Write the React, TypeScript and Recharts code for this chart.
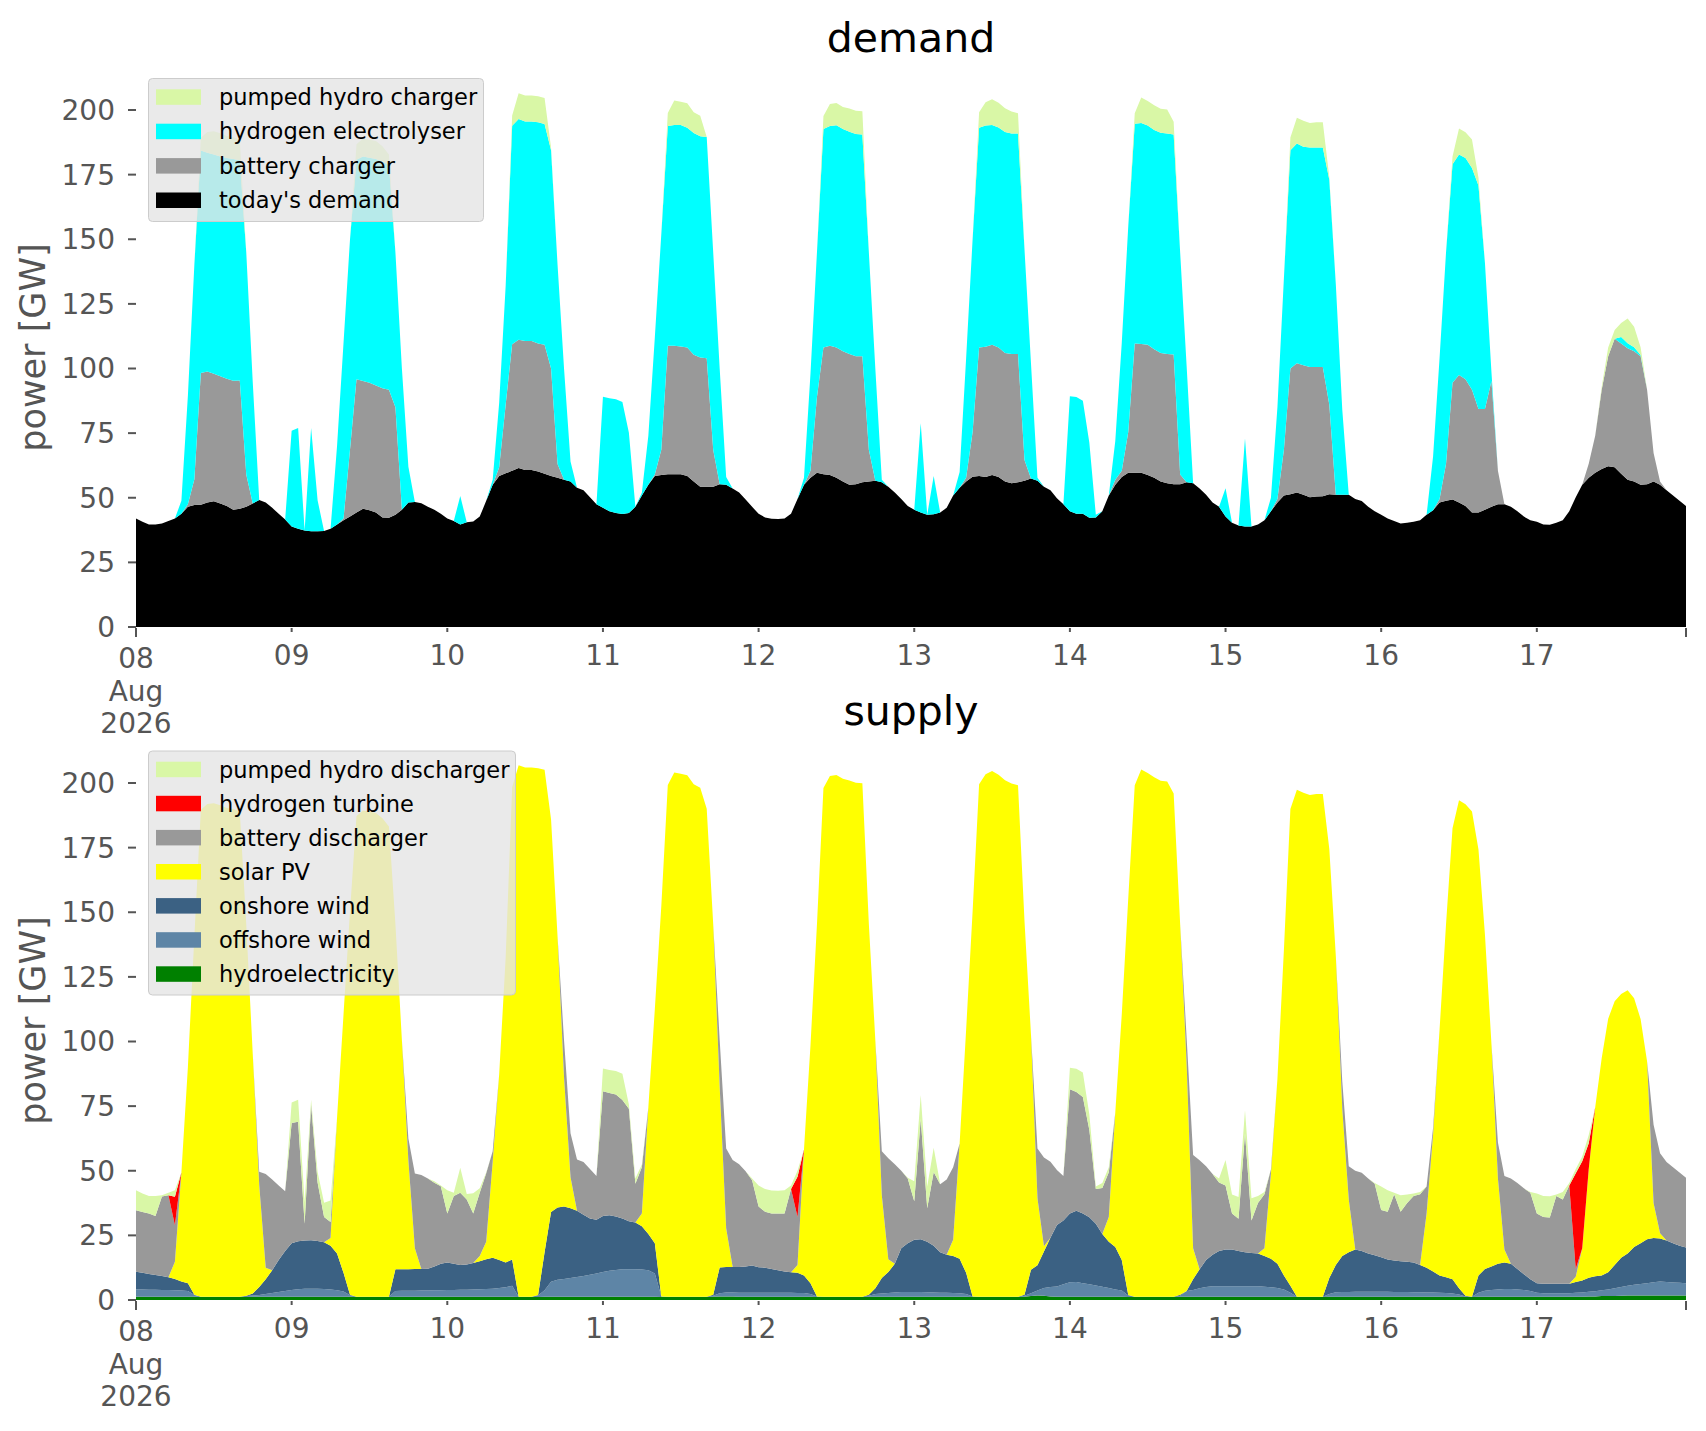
import React from 'react';
import { AreaChart, Area, XAxis, YAxis } from 'recharts';

// ---------- axis categories ----------
const DAY_LABELS = ['08', '09', '10', '11', '12', '13', '14', '15', '16', '17'];
const X_TICKS = [0, 24, 48, 72, 96, 120, 144, 168, 192, 216, 239];
const X_END = 239;
const Y_TICKS = [0, 25, 50, 75, 100, 125, 150, 175, 200];
const Y_MAX = 216.25;

// ---------- demand series (GW, hourly, 08 Aug 00:00 .. 17 Aug 23:00) ----------
const TODAY_DEMAND = [
  42, 40.7, 39.7, 39.7, 40, 41, 42, 43.8, 46.5, 47.2, 47.3, 48.2, 48.6, 47.8, 46.8, 45.4, 45.7, 46.5, 47.8, 49.1, 48.2, 46.1, 43.8, 41.6,
  38.9, 38, 37.3, 37, 37, 37.1, 38, 39.7, 41.3, 42.7, 44.3, 45.7, 45.2, 44.3, 42.4, 42.3, 43.4, 45.4, 48.2, 48.4, 47.9, 46.5, 45.4, 43.8,
  42, 41, 39.7, 40.5, 40.8, 42.7, 48.8, 55, 58.4, 59.5, 60.4, 61.5, 60.7, 60.7, 60.2, 59.3, 58.4, 57.7, 57, 56.3, 53.9, 52.9, 50.2, 47.5,
  46.1, 44.8, 44.1, 43.7, 44.1, 46.5, 50.9, 55, 58.4, 58.8, 59.1, 59.1, 59.1, 58.4, 56.3, 54.3, 54.3, 54.3, 55.2, 55, 53.6, 52, 49.3, 46.5,
  43.8, 42.4, 41.9, 41.8, 42, 43.8, 49.5, 55, 57.7, 59.7, 59.1, 58.8, 57.7, 56.3, 55, 55.2, 56, 56.3, 56.6, 56, 54.3, 52, 49.5, 46.8,
  45.4, 44.3, 43.4, 43.6, 44.3, 46.1, 50.9, 53.9, 56.3, 58.1, 58.4, 58, 58.8, 58, 56.3, 55.6, 56, 56.6, 57.4, 56.6, 54.3, 52.9, 49.8, 47.5,
  44.8, 43.8, 43.8, 42.3, 42.4, 44.8, 50.9, 55, 58, 59.7, 59.7, 59.7, 58.8, 57.7, 56.3, 55.6, 55.2, 55.2, 56, 55.6, 53.6, 51.2, 48.2, 46.5,
  42.7, 40.3, 39.3, 38.9, 38.9, 39.7, 41.3, 44.8, 48.2, 50.9, 51.4, 52, 51.2, 50.2, 50.5, 50.6, 51.4, 51.2, 51.2, 51.2, 49.5, 48.7, 46.5, 44.8,
  43.4, 42, 41, 40, 40.3, 40.7, 41.3, 43.4, 45.2, 48.2, 48.8, 49.3, 48.2, 46.8, 44.3, 44.3, 45.4, 46.5, 47.5, 47.5, 46.5, 44.8, 42.7, 41.3,
  40.7, 39.7, 39.6, 40.3, 41.3, 44.8, 50.2, 55, 57.7, 59.7, 61.1, 62.2, 61.8, 59.3, 57, 56.3, 55, 55.2, 56.3, 55, 52.9, 50.9, 48.8, 46.8,
];

const BATTERY_CHARGER = [
  0, 0, 0, 0, 0, 0, 0, 0, 1, 10, 51, 50.6, 49.4, 49.2, 49.2, 49.9, 49.7, 12.5, 0, 0, 0, 0, 0, 0,
  0, 0, 0, 0, 0, 0, 0, 0, 0.7, 26, 51.5, 49.5, 49.3, 49.1, 50, 49.5, 41.6, 0, 0, 0, 0, 0, 0, 0,
  0, 0, 0, 0, 0, 0, 0, 0, 3.4, 26.5, 49, 49.6, 49.9, 49.9, 49.5, 49.9, 41.6, 5.4, 0, 0, 0, 0, 0, 0,
  0, 0, 0, 0, 0, 0, 0, 0, 0.6, 9.8, 49.7, 49.7, 49.4, 49.7, 49, 50, 49.7, 14.3, 0, 0, 0, 0, 0, 0,
  0, 0, 0, 0, 0, 0, 0, 0, 2.7, 29.3, 49, 50, 50.4, 50.4, 50.6, 49.5, 48.7, 12.3, 0, 0, 0, 0, 0, 0,
  0, 0, 0, 0, 0, 0, 0, 0, 1.4, 17.3, 49.7, 50.4, 50.4, 50.1, 49.7, 50, 49.6, 8, 0, 0, 0, 0, 0, 0,
  0, 0, 0, 0, 0, 0, 0, 2, 2.4, 15.7, 50, 49.8, 50.4, 49.7, 49.7, 50, 50.2, 3.8, 0, 0, 0, 0, 0, 0,
  0, 0, 0, 0, 0, 0, 0, 0, 1.3, 17.7, 48.6, 50, 50.1, 50.4, 50.1, 50, 34.6, 0, 0, 0, 0, 0, 0, 0,
  0, 0, 0, 0, 0, 0, 0, 0, 0, 1.3, 14.4, 45.2, 49.3, 49, 47.5, 40, 38.9, 48.7, 12.9, 0, 0, 0, 0, 0,
  0, 0, 0, 0, 0, 0, 0, 0, 5.5, 14.3, 30.7, 42.5, 49.7, 50.4, 50.8, 50.4, 49.7, 36.6, 11, 1.3, 0, 0, 0, 0,
];

const ELECTROLYSER = [
  0, 0, 0, 0, 0, 0, 0, 5, 42, 83, 86, 84.7, 84.8, 85, 85.4, 85.7, 85.2, 86, 47, 0, 0, 0, 0, 0,
  37, 39, 0, 40, 12, 0, 0, 30.3, 68, 81.3, 85, 86.8, 87, 87.6, 87.6, 87, 60, 54.6, 13.8, 0, 0, 0, 0, 0,
  0, 0, 11, 0, 0, 0, 0, 2, 25, 46, 84.5, 85.4, 85, 85, 85.6, 85.4, 84.4, 77, 43, 7.7, 0, 0, 0, 0,
  43, 43.7, 44, 43.3, 31, 0, 1, 19, 53, 83.4, 85, 85.4, 85.7, 85, 85.8, 85.5, 85.6, 76.4, 44.8, 3, 0, 0, 0, 0,
  0, 0, 0, 0, 0, 0, 0, 2.7, 37.6, 56, 84.6, 85, 86, 86, 86, 86, 85.8, 76.4, 43.4, 1, 0, 0, 0, 0,
  0, 34.5, 0, 14.8, 0, 0, 0, 6.1, 46.3, 74.6, 85, 85.6, 85, 85.1, 85.5, 85.3, 85.3, 81.5, 44.6, 1.1, 0, 0, 0, 0,
  44.5, 45.2, 43.7, 29, 1, 0, 0, 15, 49.6, 79.6, 85, 85.5, 84.8, 84.9, 85.2, 85.3, 85.1, 86, 45, 0, 0, 0, 0, 0,
  11, 0, 0, 34, 0, 0, 0, 5.2, 35.5, 66.4, 84.4, 85, 84.5, 84.9, 84.9, 84.9, 87, 81.6, 32.8, 0, 0, 0, 0, 0,
  0, 0, 0, 0, 0, 0, 0, 0, 20.8, 54.5, 81.8, 84.5, 85.3, 85.6, 85.8, 86.5, 56.5, 3.4, 0, 0, 0, 0, 0, 0,
  0, 0, 0, 0, 0, 0, 0, 0, 0, 0, 0, 0, 0, 2.5, 2, 1.5, 0.5, 0, 0, 0, 0, 0, 0, 0,
];

const PUMPED_CHARGER = [
  0, 0, 0, 0, 0, 0, 0, 0, 0, 0, 5, 8, 9, 9, 8.5, 8.5, 8, 0, 0, 0, 0, 0, 0, 0,
  0, 0, 0, 0, 0, 0, 0, 0, 0, 0, 6, 7, 7, 7, 6, 4, 0, 0, 0, 0, 0, 0, 0, 0,
  0, 0, 0, 0, 0, 0, 0, 0, 0, 0, 4, 10, 10, 10, 10, 10, 1, 0, 0, 0, 0, 0, 0, 0,
  0, 0, 0, 0, 0, 0, 0, 0, 0, 0, 5, 9.5, 9, 9.5, 8, 8, 0, 0, 0, 0, 0, 0, 0, 0,
  0, 0, 0, 0, 0, 0, 0, 0, 0, 0, 5, 8.5, 8.6, 8.5, 9, 9, 9, 0, 0, 0, 0, 0, 0, 0,
  0, 0, 0, 0, 0, 0, 0, 0, 0, 0, 6, 9, 10, 9.6, 9.2, 8.5, 7.8, 0, 0, 0, 0, 0, 0, 0,
  0, 0, 0, 0, 0, 0, 0, 0, 0, 0, 4, 9.8, 9.5, 9.5, 9.3, 9.3, 5, 0, 0, 0, 0, 0, 0, 0,
  0, 0, 0, 0, 0, 0, 0, 0, 0, 0, 5, 10, 10, 9.5, 9.8, 9.8, 1, 0, 0, 0, 0, 0, 0, 0,
  0, 0, 0, 0, 0, 0, 0, 0, 0, 0, 0, 3, 10, 10, 11, 3, 0, 0, 0, 0, 0, 0, 0, 0,
  0, 0, 0, 0, 0, 0, 0, 0, 0, 0, 1, 3.4, 3.4, 5.4, 9.5, 8, 3, 0, 0, 0, 0, 0, 0, 0,
];

// ---------- supply series ----------
const HYDRO = [
  1.3, 1.3, 1.3, 1.3, 1.3, 1.3, 1.3, 1.3, 1.3, 1.3, 1.2, 1.2, 1.2, 1.2, 1.2, 1.2, 1.2, 1.2, 1.3, 1.3, 1.3, 1.3, 1.3, 1.3,
  1.3, 1.3, 1.3, 1.3, 1.3, 1.3, 1.3, 1.3, 1.3, 1.3, 1.2, 1.2, 1.2, 1.2, 1.2, 1.2, 1.3, 1.3, 1.3, 1.3, 1.3, 1.3, 1.3, 1.3,
  1.3, 1.3, 1.3, 1.3, 1.3, 1.3, 1.3, 1.3, 1.3, 1.3, 1.3, 1.2, 1.2, 1.2, 1.2, 1.3, 1.3, 1.3, 1.3, 1.3, 1.3, 1.3, 1.3, 1.3,
  1.3, 1.3, 1.3, 1.3, 1.3, 1.3, 1.3, 1.3, 1.3, 1.2, 1.2, 1.2, 1.2, 1.2, 1.2, 1.2, 1.2, 1.3, 1.4, 1.4, 1.4, 1.3, 1.3, 1.3,
  1.3, 1.3, 1.3, 1.3, 1.3, 1.3, 1.3, 1.3, 1.3, 1.2, 1.2, 1.2, 1.2, 1.2, 1.2, 1.2, 1.2, 1.3, 1.3, 1.3, 1.3, 1.3, 1.3, 1.3,
  1.3, 1.3, 1.3, 1.3, 1.3, 1.3, 1.3, 1.3, 1.3, 1.2, 1.2, 1.2, 1.2, 1.2, 1.2, 1.2, 1.2, 1.3, 1.5, 1.7, 1.6, 1.4, 1.3, 1.3,
  1.3, 1.3, 1.3, 1.3, 1.3, 1.3, 1.3, 1.3, 1.3, 1.2, 1.2, 1.2, 1.2, 1.2, 1.2, 1.2, 1.2, 1.3, 1.3, 1.3, 1.3, 1.3, 1.3, 1.3,
  1.3, 1.3, 1.3, 1.3, 1.3, 1.3, 1.3, 1.3, 1.3, 1.3, 1.3, 1.2, 1.2, 1.2, 1.2, 1.2, 1.3, 1.3, 1.3, 1.3, 1.3, 1.3, 1.3, 1.3,
  1.3, 1.3, 1.3, 1.3, 1.3, 1.3, 1.3, 1.3, 1.3, 1.3, 1.3, 1.3, 1.3, 1.2, 1.2, 1.3, 1.3, 1.3, 1.3, 1.3, 1.3, 1.3, 1.3, 1.3,
  1.3, 1.3, 1.3, 1.3, 1.3, 1.3, 1.3, 1.3, 1.4, 1.4, 1.5, 1.5, 1.5, 1.6, 1.7, 1.7, 1.7, 1.7, 1.7, 1.7, 1.7, 1.7, 1.7, 1.7,
];

const OFFSHORE = [
  2.8, 2.8, 2.7, 2.7, 2.6, 2.6, 2.5, 2.4, 2.2, 0.6, 0.1, 0.1, 0.1, 0.1, 0.1, 0.1, 0.1, 0.3, 0.4, 0.6, 1.0, 1.4, 1.8, 2.2,
  2.6, 2.9, 3.1, 3.1, 3.1, 3.0, 2.8, 2.5, 2.0, 0.5, 0.1, 0.1, 0.1, 0.1, 0.1, 0.1, 2.2, 2.3, 2.3, 2.3, 2.4, 2.4, 2.5, 2.5,
  2.6, 2.6, 2.7, 2.7, 2.8, 2.9, 3.0, 3.1, 3.3, 3.6, 4.2, 0.1, 0.1, 0.1, 0.5, 2.5, 5.8, 6.5, 6.8, 7.2, 7.6, 8.0, 8.5, 9.0,
  9.5, 10, 10.3, 10.6, 10.6, 10.6, 10.5, 10.2, 9.0, 0.2, 0.1, 0.1, 0.1, 0.1, 0.1, 0.1, 0.1, 0.3, 1.2, 1.5, 1.5, 1.5, 1.5, 1.5,
  1.5, 1.5, 1.5, 1.5, 1.5, 1.5, 1.4, 1.4, 1.0, 0.2, 0.1, 0.1, 0.1, 0.1, 0.1, 0.1, 0.1, 0.3, 1.0, 1.2, 1.4, 1.6, 1.8, 1.8,
  1.8, 1.8, 1.7, 1.6, 1.5, 1.5, 1.4, 1.3, 1.0, 0.2, 0.1, 0.1, 0.1, 0.1, 0.1, 0.1, 0.1, 0.3, 1.1, 2.0, 3.0, 3.6, 3.9, 4.8,
  5.6, 5.7, 5.2, 4.8, 4.3, 3.8, 3.3, 2.8, 2.4, 0.5, 0.1, 0.1, 0.1, 0.1, 0.1, 0.1, 0.1, 0.3, 2.2, 2.6, 3.2, 3.7, 4.0, 4.0,
  4, 4, 4, 4, 4, 4, 3.8, 3.6, 3.3, 2.8, 1.5, 0.1, 0.1, 0.1, 0.1, 0.1, 1.0, 1.7, 1.8, 1.8, 1.9, 1.9, 1.9, 1.9,
  1.9, 1.9, 1.8, 1.8, 1.8, 1.7, 1.7, 1.6, 1.6, 1.5, 1.4, 1.2, 0.8, 0.2, 0.1, 1.5, 2.3, 2.6, 2.8, 3.0, 3.0, 2.8, 2.6, 2.2,
  1.5, 1.3, 1.3, 1.3, 1.3, 1.3, 1.5, 1.6, 1.8, 2.0, 2.3, 2.6, 3.0, 3.4, 3.8, 4.2, 4.5, 4.8, 5.2, 5.5, 5.3, 5.1, 5.0, 4.8,
];

const ONSHORE = [
  6.8, 6.4, 6.1, 5.7, 5.4, 4.9, 4.3, 3.5, 3.0, 0.1, 0, 0, 0, 0, 0, 0, 0, 0.1, 0.8, 3.1, 5.7, 8.8, 12.4, 15.5,
  18.1, 18.5, 18.6, 18.7, 18.4, 18.0, 16.9, 14.2, 7.2, 0.2, 0, 0, 0, 0, 0, 0, 8.4, 8.3, 8.3, 8.4, 8.3, 8.4, 9.2, 10.2,
  10.6, 10.1, 9.5, 9.7, 10.2, 10.8, 11.5, 11.9, 10.9, 9.6, 10.2, 0, 0, 0, 0.2, 14.7, 26.9, 28.0, 28.1, 27.0, 25.6, 23.7, 21.7, 20.7,
  21.7, 21.5, 20.7, 19.6, 18.6, 18.1, 16.7, 14.0, 11.7, 0, 0, 0, 0, 0, 0, 0, 0, 0.4, 10.0, 9.9, 9.9, 10.0, 10.2, 10.5,
  9.9, 9.7, 9.2, 8.7, 8.2, 7.9, 7.8, 6.8, 4.2, 0, 0, 0, 0, 0, 0, 0, 0, 0.4, 2.2, 6.0, 8.1, 11.1, 16.9, 18.9,
  20.2, 20.4, 19.5, 18.1, 15.7, 14.7, 14.3, 13.4, 8.2, 0, 0, 0, 0, 0, 0, 0, 0, 0.4, 9.1, 9.7, 14.2, 19.1, 23.8, 24.7,
  26.6, 27.5, 27.0, 25.9, 23.9, 20.4, 17.9, 16.4, 11.8, 0.2, 0, 0, 0, 0, 0, 0, 0, 0.4, 0, 4.1, 7.4, 10.5, 12.2, 13.7,
  14.2, 14.2, 13.7, 13.2, 12.9, 12.7, 11.9, 11.1, 9.4, 5.4, 2.7, 0, 0, 0, 0, 0, 6.2, 10.5, 13.9, 15.4, 16.3, 15.8, 14.8, 14.1,
  13.3, 12.5, 12.2, 11.9, 11.7, 11.5, 10.5, 9.6, 8.1, 6.7, 6.1, 5.5, 2.4, 0.2, 0, 6.7, 8.4, 9.1, 9.9, 10.2, 9.7, 7.9, 6.1, 4.5,
  3.7, 3.7, 3.7, 3.7, 3.7, 3.7, 4.2, 4.6, 5.4, 5.8, 5.7, 6.6, 9.0, 11.3, 12.5, 14.6, 15.8, 17.0, 17.1, 16.6, 16.0, 15.2, 14.3, 13.8,
];

const SOLAR = [
  0, 0, 0, 0, 0, 0, 6.7, 42.1, 83.5, 138.7, 188.4, 190.6, 190.9, 190.1, 189, 188.6, 187.7, 143.8, 92.8, 39.5, 4.5, 0, 0, 0,
  0, 0, 0, 0, 0, 0, 3, 52.5, 100, 148.5, 185.9, 188.1, 187.6, 187.1, 185.1, 181.9, 133.6, 88.6, 42, 8, 0, 0, 0, 0,
  0, 0, 0, 0, 0, 2, 6.7, 37.2, 71.8, 118, 182.7, 205.6, 204.7, 204.7, 203.8, 186.6, 151.9, 104.8, 50, 12, 0, 0, 0, 0,
  0, 0, 0, 0, 0, 0, 5, 49, 90.5, 151, 197.9, 202.8, 202.3, 201.7, 198.2, 196.9, 188.7, 143.5, 70, 15, 0, 0, 0, 0,
  0, 0, 0, 0, 0, 0, 3, 48.7, 92, 144, 196.8, 201.4, 201.8, 200.3, 199.7, 198.8, 198.6, 143.5, 96, 32, 5, 0, 0, 0,
  0, 0, 0, 0, 0, 0, 6.3, 44.5, 94, 149, 198.2, 202.1, 203.3, 201.9, 199.8, 198.5, 197.8, 144.6, 91, 26, 2, 0, 0, 0,
  0, 0, 0, 0, 0, 0, 9.6, 52, 95, 153.5, 197.8, 203.9, 202.6, 200.9, 199.6, 199.3, 194.6, 143.5, 88, 12, 0, 0, 0, 0,
  0, 0, 0, 0, 0, 0, 3, 32.9, 71.5, 126, 184.4, 196.1, 194.9, 194.1, 194.4, 194.4, 166, 119.8, 57, 20.4, 0, 0, 0, 0,
  0, 0, 0, 0, 0, 0, 0, 21, 53, 95, 136.7, 174.5, 188.8, 190.2, 187.7, 164.8, 129.3, 86.1, 33, 5, 0, 0, 0, 0,
  0, 0, 0, 0, 0, 0, 2, 12.5, 42, 65.4, 84, 98.1, 102.1, 102.1, 101.8, 96.2, 86.7, 68.8, 13.5, 2, 0, 0, 0, 0,
];

const BATTERY_DISCHARGER = [
  23.8, 23.5, 23.4, 22.8, 30.7, 31.7, 14.1, 0, 0, 0, 0, 0, 0, 0, 0, 0, 0, 0, 0, 5.1, 36.2, 35.1, 28.8, 23.1,
  46.5, 46.3, 6.5, 52.4, 22.7, 9.8, 6.2, 0, 0, 0, 0, 0, 0, 0, 0, 0, 0, 0, 8.6, 28.9, 36.4, 34.9, 32.4, 30,
  19, 26.2, 28, 25.2, 19.2, 24.5, 26.5, 4, 0, 0, 0, 0, 0, 0, 0, 0, 0, 0, 14.3, 17, 19.9, 20.4, 19.2, 17,
  48.3, 47.3, 47.2, 45.9, 43.5, 15, 17.9, 0, 0, 0, 0, 0, 0, 0, 0, 0, 0, 0, 18, 30.8, 41.4, 39.7, 36.8, 33,
  23.5, 21.6, 21.5, 22, 22.5, 32.2, 18.6, 0, 0, 0, 0, 0, 0, 0, 0, 0, 0, 0, 0, 17, 39, 38.5, 30, 25,
  14.9, 46.5, 13, 28.5, 26.3, 29.1, 28.1, 0, 0, 0, 0, 0, 0, 0, 0, 0, 0, 0, 0, 19.2, 34.3, 29.4, 21.3, 17.2,
  48, 46, 45, 33.8, 13.4, 17.8, 17.3, 0, 0, 0, 0, 0, 0, 0, 0, 0, 0, 0, 10, 36.1, 42.2, 36.2, 31.2, 26.5,
  24.8, 14, 12.4, 46, 12.6, 19.5, 20.9, 1.6, 0, 0, 0, 0, 0, 0, 0, 0, 0, 0, 10.5, 12.8, 30.5, 30.2, 29, 27.7,
  18.3, 18.4, 25.6, 19.1, 22.7, 25.7, 27.4, 10.4, 2.5, 0, 0, 0, 0, 0, 0, 0, 0, 0, 13.9, 28.5, 33, 33.3, 33.2, 33.5,
  27, 25.8, 25.6, 33.9, 32.6, 38, 3, 0, 0, 0, 0, 0, 0, 0, 0, 0, 0, 0, 30.3, 31, 30.4, 29.4, 28.3, 27,
];

const HYDROGEN_TURBINE = [
  0, 0, 0, 0, 0, 0, 11, 0, 0, 0, 0, 0, 0, 0, 0, 0, 0, 0, 0, 0, 0, 0, 0, 0,
  0, 0, 0, 0, 0, 0, 0, 0, 0, 0, 0, 0, 0, 0, 0, 0, 0, 0, 0, 0, 0, 0, 0, 0,
  0, 0, 0, 0, 0, 0, 0, 0, 0, 0, 0, 0, 0, 0, 0, 0, 0, 0, 0, 0, 0, 0, 0, 0,
  0, 0, 0, 0, 0, 0, 0, 0, 0, 0, 0, 0, 0, 0, 0, 0, 0, 0, 0, 0, 0, 0, 0, 0,
  0, 0, 0, 0, 0, 0, 15.6, 0, 0, 0, 0, 0, 0, 0, 0, 0, 0, 0, 0, 0, 0, 0, 0, 0,
  0, 0, 0, 0, 0, 0, 0, 0, 0, 0, 0, 0, 0, 0, 0, 0, 0, 0, 0, 0, 0, 0, 0, 0,
  0, 0, 0, 0, 0, 0, 0, 0, 0, 0, 0, 0, 0, 0, 0, 0, 0, 0, 0, 0, 0, 0, 0, 0,
  0, 0, 0, 0, 0, 0, 0, 0, 0, 0, 0, 0, 0, 0, 0, 0, 0, 0, 0, 0, 0, 0, 0, 0,
  0, 0, 0, 0, 0, 0, 0, 0, 0, 0, 0, 0, 0, 0, 0, 0, 0, 0, 0, 0, 0, 0, 0, 0,
  0, 0, 0, 0, 0, 0, 37, 33.7, 10, 0, 0, 0, 0, 0, 0, 0, 0, 0, 0, 0, 0, 0, 0, 0,
];

const PUMPED_DISCHARGER = [
  7.8, 7.2, 6.7, 7.7, 0.5, 1, 2.6, 0, 0, 0, 0, 0, 0, 0, 0, 0, 0, 0, 0, 0, 0, 0, 0, 0,
  7.9, 8.5, 8.3, 2, 4, 5.5, 8.3, 0, 0, 0, 0, 0, 0, 0, 0, 0, 0, 0, 0, 0, 0, 0, 0.5, 0.3,
  9, 1.3, 9.7, 2.1, 7.8, 1.7, 0.3, 0, 0, 0, 0, 0, 0, 0, 0, 0, 0, 0, 0, 0, 0, 0, 0, 0,
  8.8, 8.9, 9.1, 10.1, 1.6, 2, 1, 0, 0, 0, 0, 0, 0, 0, 0, 0, 0, 0, 0, 0, 0, 0, 0, 0.7,
  8.1, 8.8, 8.9, 8.8, 9, 1.4, 2.3, 0, 0, 0, 0, 0, 0, 0, 0, 0, 0, 0, 0, 0, 0, 0, 0, 0.3,
  7.7, 9.3, 8.4, 9.4, 0, 0, 0, 0, 0, 0, 0, 0, 0, 0, 0, 0, 0, 0, 0, 0, 0, 0, 0, 0,
  8.3, 9, 9.5, 6, 1, 2, 2, 0, 0, 0, 0, 0, 0, 0, 0, 0, 0, 0, 0, 0, 0, 0, 0, 1.5,
  9.9, 7.3, 8.4, 8.9, 8.6, 2.7, 0.9, 0, 0, 0, 0, 0, 0, 0, 0, 0, 0, 0, 0, 0, 0, 0, 0, 0.3,
  9.1, 8.4, 0.6, 6.4, 3.3, 1, 0.9, 0, 0, 0, 0, 0, 0, 0, 0, 0, 0, 0, 0, 0, 0, 0, 0, 0.3,
  7.7, 8.1, 8.2, 0.6, 2.9, 1, 1.7, 1.8, 3.2, 0, 0, 0, 0, 0, 0, 0, 0, 0, 0, 0, 0, 0, 0, 0,
];

// ---------- colours ----------
const C_PUMPED = '#d9f7a6';
const C_ELECTRO = '#00ffff';
const C_BATTERY = '#999999';
const C_DEMAND = '#000000';
const C_TURBINE = '#ff0000';
const C_SOLAR = '#ffff00';
const C_ONSHORE = '#3b6183';
const C_OFFSHORE = '#5e85a6';
const C_HYDRO = '#008000';
const FONT = "'DejaVu Sans', Verdana, sans-serif";
const TICK_GREY = '#555555';

const demandData = TODAY_DEMAND.map((v, h) => ({
  h,
  today: v,
  battC: BATTERY_CHARGER[h],
  elec: ELECTROLYSER[h],
  pumpC: PUMPED_CHARGER[h],
}));

const supplyData = HYDRO.map((v, h) => ({
  h,
  hydro: v,
  offshore: OFFSHORE[h],
  onshore: ONSHORE[h],
  solar: SOLAR[h],
  battD: BATTERY_DISCHARGER[h],
  turbine: HYDROGEN_TURBINE[h],
  pumpD: PUMPED_DISCHARGER[h],
}));

const DEMAND_LEGEND = [
  { label: 'pumped hydro charger', color: C_PUMPED },
  { label: 'hydrogen electrolyser', color: C_ELECTRO },
  { label: 'battery charger', color: C_BATTERY },
  { label: "today's demand", color: C_DEMAND },
];

const SUPPLY_LEGEND = [
  { label: 'pumped hydro discharger', color: C_PUMPED },
  { label: 'hydrogen turbine', color: C_TURBINE },
  { label: 'battery discharger', color: C_BATTERY },
  { label: 'solar PV', color: C_SOLAR },
  { label: 'onshore wind', color: C_ONSHORE },
  { label: 'offshore wind', color: C_OFFSHORE },
  { label: 'hydroelectricity', color: C_HYDRO },
];

const renderXTick = (props: any) => {
  const { x, y, payload } = props;
  const v = payload.value;
  const isEnd = v === X_END;
  const isFirst = v === 0;
  const len = isFirst || isEnd ? 9 : 4;
  const label = DAY_LABELS[Math.round(v / 24)];
  return (
    <g>
      <line x1={x} x2={x} y1={y + 1} y2={y + 1 + len} stroke={TICK_GREY} strokeWidth={2} />
      {!isEnd && (
        <text textAnchor="middle" fill={TICK_GREY} fontSize={28} fontFamily={FONT}>
          <tspan x={x} y={y + (isFirst ? 40.5 : 37.5)}>{label}</tspan>
          {isFirst && <tspan x={x} y={y + 73.5}>Aug</tspan>}
          {isFirst && <tspan x={x} y={y + 105.5}>2026</tspan>}
        </text>
      )}
    </g>
  );
};

const axes = (xHeight: number) => [
  <XAxis
    key="x"
    dataKey="h"
    type="number"
    domain={[0, X_END]}
    ticks={X_TICKS}
    interval={0}
    height={xHeight}
    axisLine={false}
    tickLine={false}
    tickSize={0}
    tickMargin={0}
    tick={renderXTick}
    allowDataOverflow
  />,
  <YAxis
    key="y"
    type="number"
    domain={[0, Y_MAX]}
    ticks={Y_TICKS}
    interval={0}
    width={136}
    axisLine={false}
    tickSize={8}
    tickMargin={13}
    stroke={TICK_GREY}
    tickLine={{ stroke: TICK_GREY, strokeWidth: 2 }}
    tick={{ fill: TICK_GREY, fontSize: 28, fontFamily: FONT }}
    allowDataOverflow
  />,
];

const area = (key: string, color: string) => (
  <Area
    key={key}
    type="linear"
    dataKey={key}
    stackId="s"
    stroke="none"
    fill={color}
    fillOpacity={1}
    isAnimationActive={false}
    dot={false}
    activeDot={false}
  />
);

const Legend = ({ items, x, y, w, h, patchY, textY, step }: any) => (
  <g>
    <rect x={x} y={y} width={w} height={h} rx={4} ry={4} fill="#e5e5e5" fillOpacity={0.8} stroke="#cccccc" strokeWidth={1} />
    {items.map((it: any, i: number) => (
      <g key={it.label}>
        <rect x={156} y={patchY + i * step} width={45} height={15.5} fill={it.color} />
        <text x={219} y={textY + i * step} fontSize={22.5} fontFamily={FONT} fill="#000000">
          {it.label}
        </text>
      </g>
    ))}
  </g>
);

export default function App() {
  return (
    <div style={{ position: 'absolute', left: 0, top: 0, width: 1706, height: 1431, background: '#ffffff', overflow: 'hidden' }}>
      <div style={{ position: 'absolute', left: 0, top: 0 }}>
        <AreaChart width={1706} height={760} data={demandData} margin={{ top: 68, right: 20, bottom: 0, left: 0 }}>
          {axes(133)}
          {area('today', C_DEMAND)}
          {area('battC', C_BATTERY)}
          {area('elec', C_ELECTRO)}
          {area('pumpC', C_PUMPED)}
        </AreaChart>
      </div>
      <div style={{ position: 'absolute', left: 0, top: 680 }}>
        <AreaChart width={1706} height={751} data={supplyData} margin={{ top: 61, right: 20, bottom: 0, left: 0 }}>
          {axes(131)}
          {area('hydro', C_HYDRO)}
          {area('offshore', C_OFFSHORE)}
          {area('onshore', C_ONSHORE)}
          {area('solar', C_SOLAR)}
          {area('battD', C_BATTERY)}
          {area('turbine', C_TURBINE)}
          {area('pumpD', C_PUMPED)}
        </AreaChart>
      </div>
      <svg
        width={1706}
        height={1431}
        style={{ position: 'absolute', left: 0, top: 0, pointerEvents: 'none' }}
      >
        <text x={911} y={52} textAnchor="middle" fontSize={41} fontFamily={FONT} fill="#000000">demand</text>
        <text x={911} y={725} textAnchor="middle" fontSize={41} fontFamily={FONT} fill="#000000">supply</text>
        <text transform="translate(45,347.5) rotate(-90)" textAnchor="middle" fontSize={35} fontFamily={FONT} fill={TICK_GREY}>power [GW]</text>
        <text transform="translate(45,1020.5) rotate(-90)" textAnchor="middle" fontSize={35} fontFamily={FONT} fill={TICK_GREY}>power [GW]</text>
        <Legend items={DEMAND_LEGEND} x={148.5} y={78.5} w={335} h={143} patchY={89.3} textY={105} step={34.4} />
        <Legend items={SUPPLY_LEGEND} x={148.5} y={751} w={367} h={244} patchY={761.7} textY={777.5} step={34.1} />
      </svg>
    </div>
  );
}
